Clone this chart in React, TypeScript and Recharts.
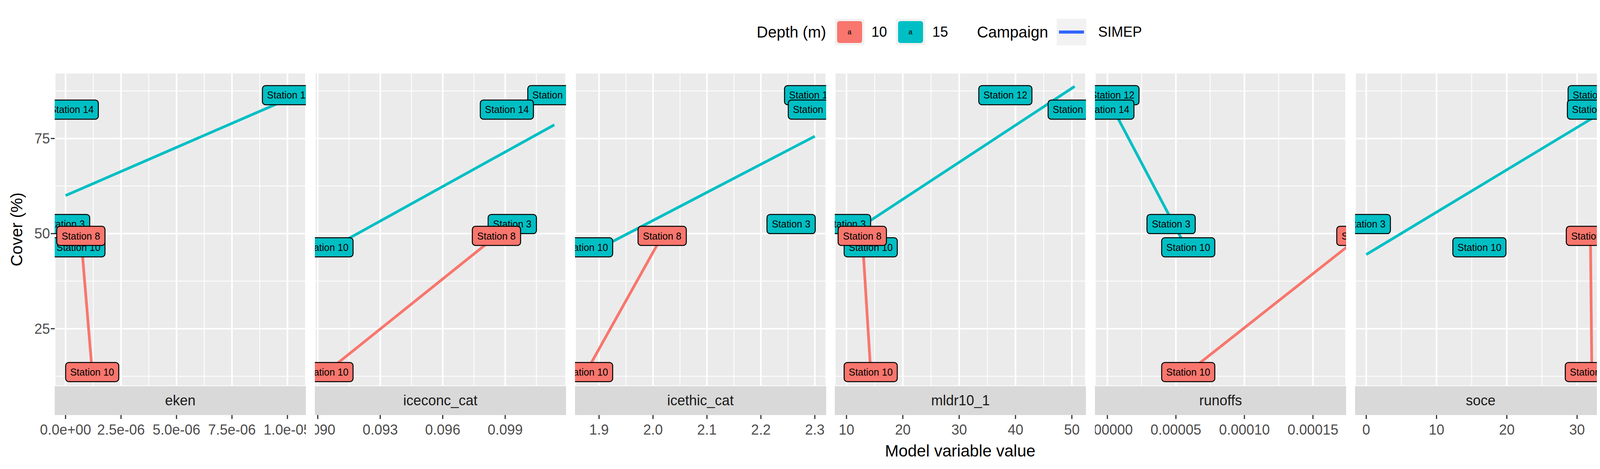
import React from 'react'
import {
  CartesianGrid,
  ComposedChart,
  Line,
  Scatter,
  XAxis,
  YAxis,
} from 'recharts'

// station labels, in drawing order (cyan first, red on top)
const stations = ['Station 12', 'Station 14', 'Station 3', 'Station 10', 'Station 8', 'Station 10']
const depths = [15, 15, 15, 15, 10, 10]
const cover = [86.4, 82.6, 52.5, 46.4, 49.4, 13.6]

const facetNames = ['eken', 'iceconc_cat', 'icethic_cat', 'mldr10_1', 'runoffs', 'soce', 'toce']

// model variable value of each station, per facet
const ekenX = [1.007e-5, 0.28e-6, 0, 0.58e-6, 0.69e-6, 1.2e-6]
const iceconcX = [0.10136, 0.09908, 0.09934, 0.09042, 0.09858, 0.09042]
const icethicX = [2.293, 2.3, 2.256, 1.876, 2.017, 1.876]
const mldrX = [38.2, 50.5, 10.0, 14.3, 12.8, 14.3]
const runoffsX = [0.37e-5, 0, 4.65e-5, 5.9e-5, 1.85e-4, 5.9e-5]
const soceX = [32.5, 32.4, 0, 16.1, 31.9, 32.1]
const toceX = [0.162, 0.324, 0, 0.33, 0.95, 0.663]

// fitted lines [x, cover] end points
const fit15 = [
  [[0, 60.0], [1.007e-5, 85.5]],
  [[0.09042, 45.5], [0.10136, 78.6]],
  [[1.876, 44.3], [2.3, 75.6]],
  [[10, 49.3], [50.5, 88.7]],
  [[0, 85.6], [5.9e-5, 45.3]],
  [[0, 44.5], [32.5, 80.7]],
  [[0, 63.2], [0.33, 69.3]],
]
const fit10 = [
  [[0.69e-6, 49.4], [1.2e-6, 13.6]],
  [[0.09042, 13.6], [0.09858, 49.4]],
  [[1.876, 13.6], [2.017, 49.4]],
  [[12.8, 49.4], [14.3, 13.6]],
  [[5.9e-5, 13.6], [1.85e-4, 49.4]],
  [[31.9, 49.4], [32.1, 13.6]],
  [[0.663, 13.6], [0.95, 49.4]],
]

const xDomains = [
  [-0.49e-6, 1.083e-5],
  [0.08986, 0.10192],
  [1.8554, 2.321],
  [7.92, 52.5],
  [-0.91e-5, 1.742e-4],
  [-1.59, 34.15],
  [-0.046, 0.996],
]
const xTicks = [
  [0, 2.5e-6, 5e-6, 7.5e-6, 1e-5],
  [0.09, 0.093, 0.096, 0.099],
  [1.9, 2.0, 2.1, 2.2, 2.3],
  [10, 20, 30, 40, 50],
  [0, 5e-5, 1e-4, 1.5e-4],
  [0, 10, 20, 30],
  [0, 0.25, 0.5, 0.75],
]
const xTickLabels = [
  ['0.0e+00', '2.5e-06', '5.0e-06', '7.5e-06', '1.0e-05'],
  ['0.090', '0.093', '0.096', '0.099'],
  ['1.9', '2.0', '2.1', '2.2', '2.3'],
  ['10', '20', '30', '40', '50'],
  ['0.00000', '0.00005', '0.00010', '0.00015'],
  ['0', '10', '20', '30'],
  ['0.00', '0.25', '0.50', '0.75'],
]
const xMinor = [
  [1.25e-6, 3.75e-6, 6.25e-6, 8.75e-6],
  [0.0915, 0.0945, 0.0975, 0.1005],
  [1.95, 2.05, 2.15, 2.25],
  [15, 25, 35, 45],
  [2.5e-5, 7.5e-5, 1.25e-4],
  [5, 15, 25],
  [0.125, 0.375, 0.625, 0.875],
]
const facetX = [ekenX, iceconcX, icethicX, mldrX, runoffsX, soceX, toceX]

const yDomain = [9.9, 92.3]
const yTicks = [25, 50, 75]
const yMinor = [12.5, 37.5, 62.5, 87.5]

const RED = '#F8766D'
const CYAN = '#00BFC4'
const FONT = "'Liberation Sans Narrow', 'Liberation Sans', Arial, sans-serif"

const PANEL_W = 643
const PANEL_TOP = 186
const PANEL_H = 802
const STRIP_H = 74
const AXIS_H = 150
const Y_AXIS_W = 140
const panelLeft = (i: number) => 140 + i * 665.8

function StationLabel(props: any) {
  const { cx, cy, payload } = props
  if (cx == null || cy == null) return null
  const w = 12 + payload.name.length * 12.4
  const h = 49
  return (
    <g>
      <rect
        x={cx - w / 2}
        y={cy - h / 2}
        width={w}
        height={h}
        rx={8}
        fill={payload.depth === 10 ? RED : CYAN}
        stroke="#000"
        strokeWidth={2.5}
      />
      <text x={cx} y={cy + 9} textAnchor="middle" fontSize={25} fontFamily={FONT} fill="#000">
        {payload.name}
      </text>
    </g>
  )
}

function makeTick(i: number) {
  return (props: any) => {
    const { x, y, payload } = props
    const idx = xTicks[i].indexOf(payload.value)
    return (
      <g>
        <line x1={x} x2={x} y1={y + STRIP_H} y2={y + STRIP_H + 10} stroke="#333" strokeWidth={3} />
        <text x={x} y={y + STRIP_H + 50} textAnchor="middle" fontSize={36} fontFamily={FONT} fill="#4D4D4D">
          {idx >= 0 ? xTickLabels[i][idx] : ''}
        </text>
      </g>
    )
  }
}

function Facet({ i }: { i: number }) {
  const first = i === 0
  const points = facetX[i].map((x, k) => ({ x, y: cover[k], name: stations[k], depth: depths[k] }))
  const line15 = fit15[i].map(([x, y]) => ({ x, y }))
  const line10 = fit10[i].map(([x, y]) => ({ x, y }))
  const width = PANEL_W + (first ? Y_AXIS_W : 0)
  return (
    <div style={{ position: 'absolute', left: panelLeft(i) - (first ? Y_AXIS_W : 0), top: PANEL_TOP }}>
      <ComposedChart
        width={width}
        height={PANEL_H + AXIS_H}
        margin={{ top: 0, right: 0, bottom: 0, left: 0 }}
        style={{ overflow: 'visible' }}
      >
        <XAxis
          type="number"
          dataKey="x"
          domain={xDomains[i]}
          ticks={xTicks[i]}
          interval={0}
          allowDataOverflow
          height={AXIS_H}
          tickSize={0}
          tickMargin={0}
          tickLine={false}
          axisLine={false}
          tick={makeTick(i)}
        />
        <XAxis xAxisId="minor" type="number" dataKey="x" domain={xDomains[i]} ticks={xMinor[i]} interval={0} allowDataOverflow hide />
        <YAxis
          type="number"
          dataKey="y"
          domain={yDomain}
          ticks={yTicks}
          allowDataOverflow
          hide={!first}
          width={Y_AXIS_W}
          axisLine={false}
          tickSize={10}
          tickLine={{ stroke: '#333', strokeWidth: 3 }}
          tick={{ fontSize: 36, fill: '#4D4D4D', fontFamily: FONT }}
        />
        <YAxis yAxisId="minor" type="number" dataKey="y" domain={yDomain} ticks={yMinor} allowDataOverflow hide />
        <CartesianGrid fill="#EBEBEB" stroke="#FFFFFF" strokeWidth={2} xAxisId="minor" yAxisId="minor" />
        <CartesianGrid stroke="#FFFFFF" strokeWidth={4} />
        <Line data={line15} dataKey="y" type="linear" stroke={CYAN} strokeWidth={7} dot={false} isAnimationActive={false} />
        <Line data={line10} dataKey="y" type="linear" stroke={RED} strokeWidth={7} dot={false} isAnimationActive={false} />
        <Scatter data={points} dataKey="y" shape={<StationLabel />} isAnimationActive={false} />
      </ComposedChart>
      <div
        style={{
          position: 'absolute',
          left: first ? Y_AXIS_W : 0,
          top: PANEL_H,
          width: PANEL_W,
          height: STRIP_H,
          background: '#D9D9D9',
          display: 'flex',
          alignItems: 'center',
          justifyContent: 'center',
          fontFamily: FONT,
          fontSize: 36,
          color: '#1A1A1A',
        }}
      >
        {facetNames[i]}
      </div>
    </div>
  )
}

function KeyLabel({ color }: { color: string }) {
  return (
    <div style={{ width: 76, height: 68, background: '#F2F2F2', display: 'flex', alignItems: 'center', justifyContent: 'center' }}>
      <div
        style={{
          width: 64,
          height: 56,
          background: color,
          borderRadius: 6,
          display: 'flex',
          alignItems: 'center',
          justifyContent: 'center',
          fontSize: 18,
          fontFamily: FONT,
        }}
      >
        a
      </div>
    </div>
  )
}

function Legend() {
  const text = { fontFamily: FONT, fontSize: 40, color: '#000' }
  return (
    <div style={{ position: 'absolute', left: 1937, top: 48, height: 68, display: 'flex', alignItems: 'center' }}>
      <span style={{ ...text, marginRight: 22 }}>Depth (m)</span>
      <KeyLabel color={RED} />
      <span style={{ ...text, fontSize: 36, margin: '0 22px 0 18px' }}>10</span>
      <KeyLabel color={CYAN} />
      <span style={{ ...text, fontSize: 36, margin: '0 74px 0 18px' }}>15</span>
      <span style={{ ...text, marginRight: 22 }}>Campaign</span>
      <div style={{ width: 76, height: 68, background: '#F2F2F2', display: 'flex', alignItems: 'center', justifyContent: 'center' }}>
        <div style={{ width: 64, height: 8, background: '#3366FF' }} />
      </div>
      <span style={{ ...text, fontSize: 36, marginLeft: 30 }}>SIMEP</span>
    </div>
  )
}

export default function App() {
  return (
    <div style={{ position: 'relative', margin: -8, width: 4800, height: 1200, background: '#fff', overflow: 'hidden' }}>
      <Legend />
      {facetNames.map((_, i) => (
        <Facet key={i} i={i} />
      ))}
      <div
        style={{
          position: 'absolute',
          left: 43,
          top: PANEL_TOP + PANEL_H / 2,
          transform: 'translate(-50%, -50%) rotate(-90deg)',
          fontFamily: FONT,
          fontSize: 42,
          whiteSpace: 'nowrap',
        }}
      >
        Cover (%)
      </div>
      <div
        style={{
          position: 'absolute',
          left: 2458,
          top: 1154,
          transform: 'translate(-50%, -50%)',
          fontFamily: FONT,
          fontSize: 42,
          whiteSpace: 'nowrap',
        }}
      >
        Model variable value
      </div>
    </div>
  )
}
